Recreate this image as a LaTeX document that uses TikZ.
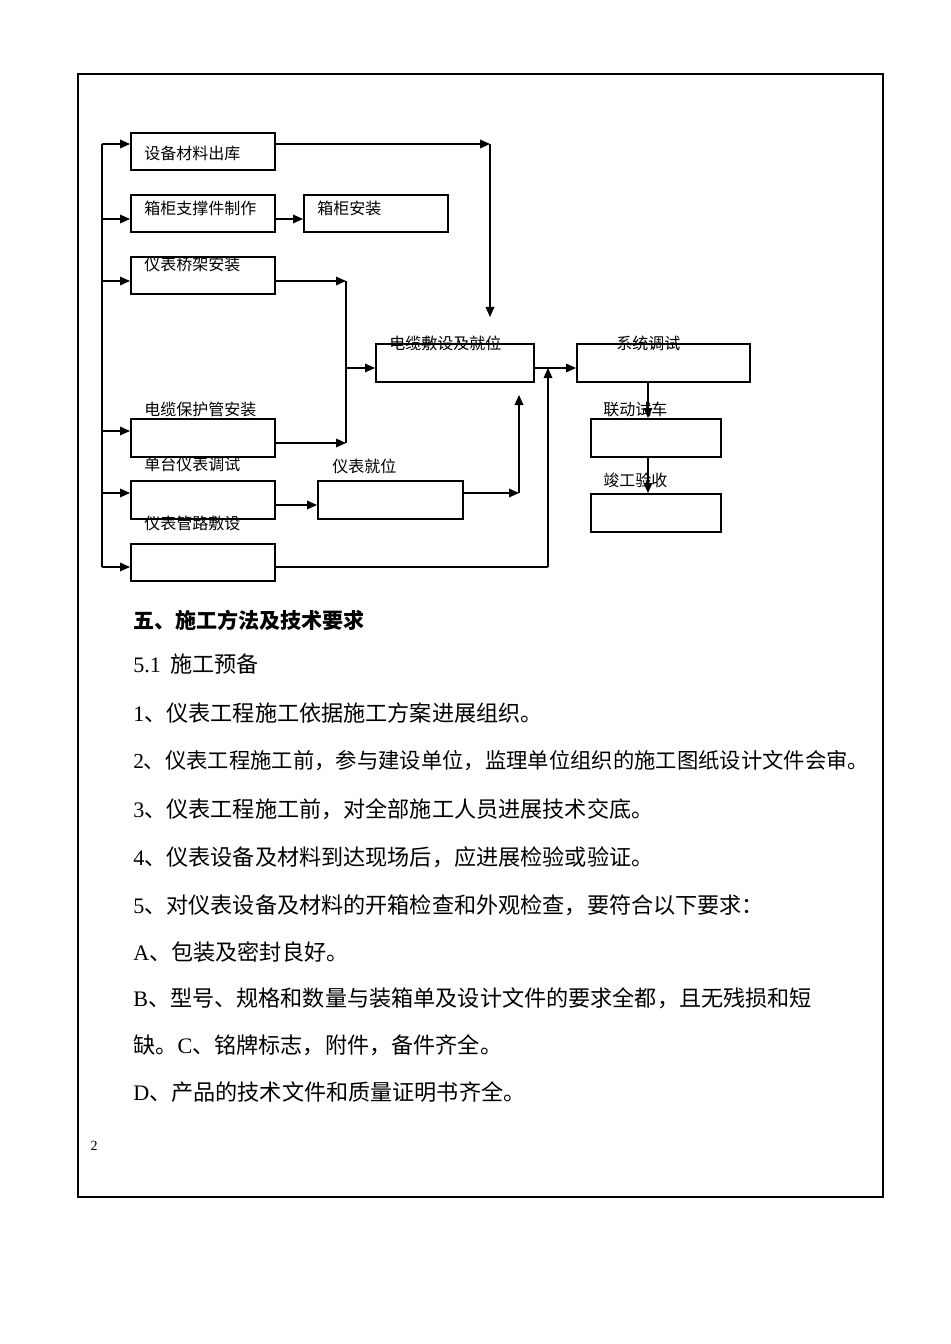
\documentclass[tikz,border=0pt]{standalone}
\usepackage{fontspec}
\setmainfont{Liberation Serif}
\newfontfamily\cjk{Noto Sans CJK SC}
\usetikzlibrary{arrows.meta}
\begin{document}
\begin{tikzpicture}[x=0.75pt,y=-0.75pt,
  box/.style={draw,line width=1.2pt,inner sep=0,anchor=north west,minimum width=108pt,minimum height=28pt},
  lab/.style={anchor=west,inner sep=0,font=\cjk\fontsize{12}{14}\selectfont},
  conn/.style={line width=0.9pt},
  arr/.style={conn,-{Triangle[length=7.5pt,width=6.5pt]}},
  body/.style={anchor=west,inner sep=0,font=\fontsize{16.6}{18}\selectfont}
]
\useasboundingbox (0,0) rectangle (950,1344);
% frame
\draw[line width=1.5pt] (78,74) rectangle (883,1197);

% boxes
\node[box,minimum height=27.75pt] (b1) at (130,132) {};
\node[box,minimum height=27.75pt] (b2) at (130,194) {};
\node[box,minimum height=27.75pt] (b3) at (303,194) {};
\node[box,minimum height=27.75pt] (b4) at (130,256) {};
\node[box,minimum height=28.5pt] (b5) at (130,418) {};
\node[box,minimum height=28.5pt] (b6) at (130,480) {};
\node[box,minimum height=27.75pt] (b7) at (130,543) {};
\node[box,minimum width=108.75pt,minimum height=28.5pt] (b8) at (317,480) {};
\node[box,minimum width=118.5pt,minimum height=28.5pt] (b9) at (375,343) {};
\node[box,minimum width=129.75pt,minimum height=28.5pt] (b10) at (576,343) {};
\node[box,minimum width=97.5pt,minimum height=28.5pt] (b11) at (590,418) {};
\node[box,minimum width=97.5pt,minimum height=28.5pt] (b12) at (590,493) {};

% labels
\node[lab] (l1) at (144,153) {设备材料出库};
\node[lab] (l2) at (144,208) {箱柜支撑件制作};
\node[lab] (l3) at (317,208) {箱柜安装};
\node[lab] (l4) at (144,264) {仪表桥架安装};
\node[lab] (l5) at (144,409) {电缆保护管安装};
\node[lab] (l6) at (144,464) {单台仪表调试};
\node[lab] (l7) at (144,523) {仪表管路敷设};
\node[lab] (l8) at (332,466) {仪表就位};
\node[lab] (l9) at (389,343) {电缆敷设及就位};
\node[lab] (l10) at (616,343) {系统调试};
\node[lab] (l11) at (603,409) {联动试车};
\node[lab] (l12) at (603,480) {竣工验收};

% bus
\coordinate (j1) at (102,144);
\coordinate (j2) at (102,219);
\coordinate (j4) at (102,281);
\coordinate (j5) at (102,431);
\coordinate (j6) at (102,493);
\coordinate (j7) at (102,567);
\draw[conn] (j1) -- (j7);
\draw[arr] (j1) -- (b1.west |- j1);
\draw[arr] (j2) -- (b2.west |- j2);
\draw[arr] (j4) -- (b4.west |- j4);
\draw[arr] (j5) -- (b5.west |- j5);
\draw[arr] (j6) -- (b6.west |- j6);
\draw[arr] (j7) -- (b7.west |- j7);

% connectors
\coordinate (c1) at (490,144);
\coordinate (c1d) at (490,317);
\draw[arr] (b1.east |- c1) -- (c1);
\draw[arr] (c1) -- (c1d);
\draw[arr] (b2.east |- j2) -- (b3.west |- j2);
\coordinate (c4) at (346,281);
\coordinate (c5) at (346,443);
\coordinate (c9) at (346,368);
\draw[arr] (b4.east |- c4) -- (c4);
\draw[conn] (c4) -- (c5);
\draw[arr] (b5.east |- c5) -- (c5);
\draw[arr] (c9) -- (b9.west |- c9);
\coordinate (y505) at (300,505);
\draw[arr] (b6.east |- y505) -- (b8.west |- y505);
\coordinate (c8) at (519,493);
\coordinate (c8u) at (519,395);
\draw[arr] (b8.east |- c8) -- (c8);
\draw[arr] (c8) -- (c8u);
\coordinate (c7) at (548,567);
\coordinate (c7u) at (548,368);
\draw[conn] (b7.east |- c7) -- (c7);
\draw[arr] (c7) -- (c7u);
\draw[arr] (b9.east |- c9) -- (b10.west |- c9);
\coordinate (x648) at (648,0);
\draw[arr] (b10.south -| x648) -- (b11.north -| x648);
\draw[arr] (b11.south -| x648) -- (b12.north -| x648);

% text
\node[anchor=west,inner sep=0,font=\cjk\bfseries\fontsize{15.8}{18}\selectfont] (t0) at (133,620) {五、施工方法及技术要求};
\node[body] (t1) at (133,664) {5.1\hspace{7pt}{\cjk 施工预备}};
\node[body] (t2) at (133,713) {1{\cjk 、仪表工程施工依据施工方案进展组织。}};
\node[body,font=\fontsize{16}{18}\selectfont] (t3) at (133,761) {2{\cjk 、仪表工程施工前，参与建设单位，监理单位组织的施工图纸设计文件会审。}};
\node[body] (t4) at (133,809) {3{\cjk 、仪表工程施工前，对全部施工人员进展技术交底。}};
\node[body] (t5) at (133,857) {4{\cjk 、仪表设备及材料到达现场后，应进展检验或验证。}};
\node[body] (t6) at (133,905) {5{\cjk 、对仪表设备及材料的开箱检查和外观检查，要符合以下要求：}};
\node[body] (t7) at (133,952) {A{\cjk 、包装及密封良好。}};
\node[body] (t8) at (133,998) {B{\cjk 、型号、规格和数量与装箱单及设计文件的要求全都，且无残损和短}};
\node[body] (t9) at (133,1045) {{\cjk 缺。}C{\cjk 、铭牌标志，附件，备件齐全。}};
\node[body] (t10) at (133,1092) {D{\cjk 、产品的技术文件和质量证明书齐全。}};
\node[inner sep=0,font=\fontsize{10.5}{12}\selectfont] (pg) at (94,1146) {2};
\end{tikzpicture}
\end{document}
